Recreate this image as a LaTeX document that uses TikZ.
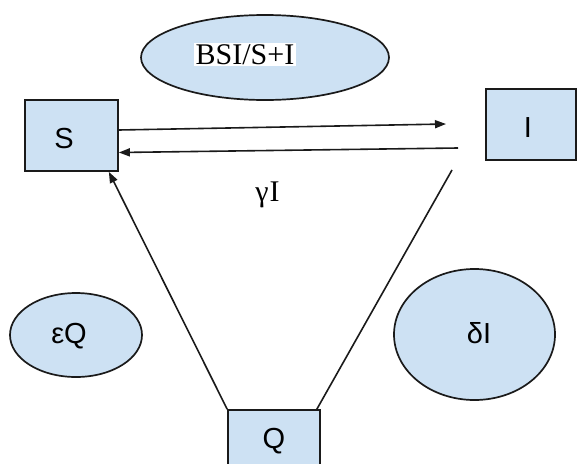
\documentclass[tikz,border=0pt]{standalone}
\usepackage{fontspec}
\setmainfont{Liberation Serif}
\newfontfamily\labelsans{Liberation Sans}
\usetikzlibrary{arrows.meta,shapes.geometric}
\definecolor{compfill}{HTML}{CDE1F3}
\definecolor{edgeline}{HTML}{1A1A1A}
\tikzset{
  x=1pt, y=-1pt,
  compartment/.style={draw=edgeline, line width=1.7pt, fill=compfill, rectangle,
    inner sep=0pt},
  rate/.style={draw=edgeline, line width=1.7pt, fill=compfill, ellipse,
    inner sep=0pt},
  sanslabel/.style={font=\labelsans\fontsize{29}{32}\selectfont, inner sep=0pt},
  flow/.style={draw=edgeline, line width=1.6pt},
  flowarrow/.style={flow, -{Triangle[length=11pt,width=8pt]}},
  serifnote/.style={font=\fontsize{30}{34}\selectfont, inner sep=1.5pt}
}
\begin{document}
\begin{tikzpicture}
\useasboundingbox (0,0) rectangle (577,463);

% compartments
\node[compartment, minimum width=93, minimum height=71] (S) at (71.5,135.5) {};
\node[sanslabel] (Slab) at (64,139) {S};
\node[compartment, minimum width=90, minimum height=71] (I) at (531,124.5) {};
\node[sanslabel] (Ilab) at (528,127.5) {I};
\node[compartment, minimum width=92, minimum height=68] (Q) at (274,444) {};
\node[sanslabel] (Qlab) at (274,441) {Q};

% rate ellipses
\node[rate, minimum width=248, minimum height=85] (beta) at (265,57.5) {};
\node[serifnote, fill=white] (betalab) at (245,54.5) {BSI/S+I};
\node[rate, minimum width=132, minimum height=84] (eps) at (76,335) {};
\node[sanslabel] (epslab) at (69,336) {εQ};
\node[rate, minimum width=161, minimum height=131] (delta) at (474.5,334.5) {};
\node[sanslabel] (deltalab) at (479,333) {δI};

% recovery label
\node[serifnote] (gamma) at (267.5,195) {γ\kern1ptI};

% free ends of the flows near I
\coordinate (infEnd) at (446,124);
\coordinate (recStart) at (458,148);
\coordinate (isoEnd) at (452,170);

% flows
\draw[flowarrow] ([yshift=5.5pt]S.east) -- (infEnd);
\draw[flowarrow] (recStart) -- ([yshift=-17pt]S.east);
\draw[flowarrow] (Q.north west) -- ([xshift=-10pt]S.south east);
\draw[flow] ([xshift=-4pt]Q.north east) -- (isoEnd);
\end{tikzpicture}
\end{document}
